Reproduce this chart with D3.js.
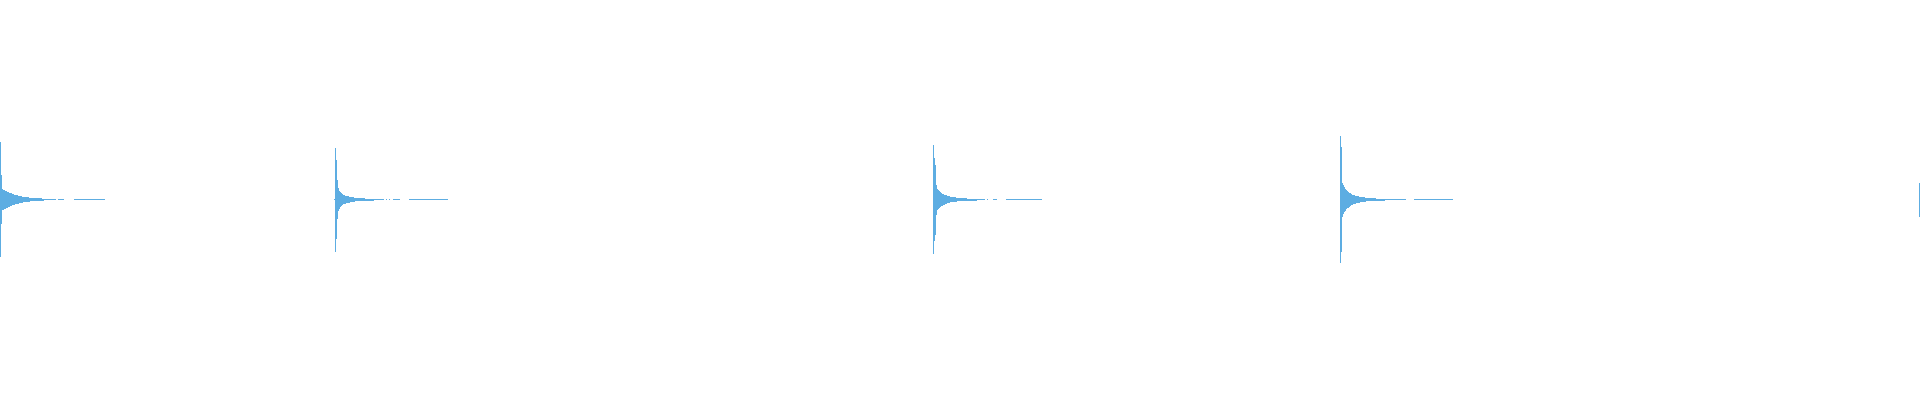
<!DOCTYPE html>
<html>
<head>
<meta charset="utf-8">
<script src="https://cdn.jsdelivr.net/npm/d3@7"></script>
<style>
  html, body { margin: 0; padding: 0; background: #fff; }
</style>
</head>
<body>
<div id="chart-container"></div>
<script>
// waveform peaks, one value per pixel column (half-height, full scale = 1)
const burstStarts = [0, 335, 933, 1340, 1919];

const burst1 = [0.575, 0.245, 0.105, 0.10, 0.095, 0.09, 0.085, 0.08, 0.075, 0.07, 0.067, 0.062, 0.057, 0.053,
  0.05, 0.047, 0.045, 0.042, 0.04, 0.037, 0.034, 0.032, 0.03, 0.028, 0.027, 0.025, 0.023, 0.022, 0.021, 0.02,
  0.019, 0.018, 0.017, 0.016, 0.015, 0.015, 0.014, 0.013, 0.012, 0.012, 0.011, 0.011, 0.01, 0.01];
const burst2 = [0.52, 0.395, 0.198, 0.115, 0.09, 0.075, 0.065, 0.055, 0.048, 0.044, 0.04, 0.037, 0.035, 0.033,
  0.03, 0.028, 0.026, 0.024, 0.022, 0.02, 0.019, 0.018, 0.016, 0.015, 0.014, 0.013, 0.012, 0.012, 0.011, 0.011,
  0.01, 0.01, 0.01, 0.01, 0.01, 0.01, 0.01, 0.01, 0.01];
const burst3 = [0.545, 0.418, 0.35, 0.15, 0.105, 0.095, 0.085, 0.072, 0.065, 0.06, 0.055, 0.05, 0.045, 0.042,
  0.038, 0.035, 0.032, 0.028, 0.027, 0.026, 0.025, 0.023, 0.022, 0.02, 0.019, 0.018, 0.017, 0.015, 0.014, 0.013,
  0.012, 0.012, 0.011, 0.011, 0.01, 0.01, 0.01, 0.01, 0.01, 0.01, 0.01, 0.01, 0.01, 0.01];
const burst4 = [0.635, 0.525, 0.17, 0.145, 0.125, 0.11, 0.095, 0.087, 0.08, 0.07, 0.062, 0.057, 0.05, 0.045,
  0.042, 0.04, 0.037, 0.035, 0.033, 0.03, 0.028, 0.026, 0.025, 0.023, 0.022, 0.02, 0.019, 0.018, 0.017, 0.015,
  0.014, 0.013, 0.012, 0.012, 0.011, 0.011, 0.01, 0.01, 0.01, 0.01, 0.01, 0.01, 0.01, 0.01, 0.01];
const burst5 = [0.17];

// quiet stretches after each burst (start column, end column)
const tails = [
  [44, 56], [58, 64], [74, 105],
  [334, 335], [374, 384], [386, 387], [389, 390], [393, 400], [409, 448],
  [977, 985], [987, 988], [993, 997], [1006, 1042],
  [1385, 1406], [1414, 1453]
];

const width = 1920, height = 400;
const color = "#5dade2";

const bursts = [burst1, burst2, burst3, burst4, burst5];
const columns = [];
bursts.forEach((b, k) => b.forEach((v, i) => columns.push({ col: burstStarts[k] + i, amp: v })));

const svg = d3.select("#chart-container")
  .append("svg")
  .attr("width", width)
  .attr("height", height)
  .style("display", "block");

const x = d3.scaleLinear().domain([0, width]).range([0, width]);
const y = d3.scaleLinear().domain([-1, 1]).range([299.5, 99.5]);

// quiet line
svg.selectAll(".tail")
  .data(tails)
  .enter()
  .append("rect")
  .attr("class", "tail")
  .attr("x", d => x(d[0]))
  .attr("width", d => x(d[1]) - x(d[0]))
  .attr("y", y(0) - 0.5)
  .attr("height", 1)
  .attr("fill", color)
  .attr("shape-rendering", "crispEdges");

// peak columns
svg.selectAll(".peak")
  .data(columns)
  .enter()
  .append("rect")
  .attr("class", "peak")
  .attr("x", d => x(d.col))
  .attr("width", x(1) - x(0))
  .attr("y", d => Math.min(y(d.amp), y(0) - 0.5))
  .attr("height", d => Math.max(1, y(-d.amp) - y(d.amp)))
  .attr("fill", color)
  .attr("shape-rendering", "crispEdges");
</script>
</body>
</html>
